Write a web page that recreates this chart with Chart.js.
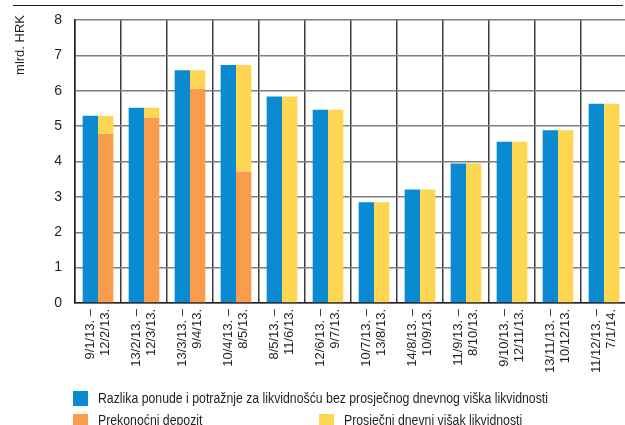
<!DOCTYPE html>
<html>
<head>
<meta charset="utf-8">
<script src="https://cdn.jsdelivr.net/npm/chart.js@4"></script>
<style>
  html, body { margin: 0; padding: 0; background: #fff; overflow: hidden; width: 625px; height: 425px; }
  #wrap { position: relative; width: 627px; height: 425px; }
  canvas { position: absolute; left: 0; top: 0; }
  .lg { position: absolute; font-family: "Liberation Sans", Arial, sans-serif; font-size: 14px; color: #231f20; white-space: nowrap; line-height: 16px; transform-origin: 0 0; }
  .sw { position: absolute; width: 15px; height: 15px; }
</style>
</head>
<body>
<div id="wrap">
  <canvas id="c" width="627" height="425"></canvas>
</div>
<script>
// ---- data ----
const periodStart = ["9/1/13.", "13/2/13.", "13/3/13.", "10/4/13.", "8/5/13.", "12/6/13.", "10/7/13.", "14/8/13.", "11/9/13.", "9/10/13.", "13/11/13.", "11/12/13."];
const periodEnd   = ["12/2/13.", "12/3/13.", "9/4/13.", "8/5/13.", "11/6/13.", "9/7/13.", "13/8/13.", "10/9/13.", "8/10/13.", "12/11/13.", "10/12/13.", "7/1/14."];
const razlika    = [5.29, 5.52, 6.58, 6.73, 5.84, 5.46, 2.85, 3.21, 3.94, 4.56, 4.88, 5.63];
const prekonocni = [4.78, 5.24, 6.06, 3.71, 0, 0, 0, 0, 0, 0, 0, 0];
const visak      = [0.51, 0.28, 0.52, 3.02, 5.84, 5.46, 2.85, 3.21, 3.94, 4.56, 4.88, 5.63];
const yTicks = [0, 1, 2, 3, 4, 5, 6, 7, 8];
const seriesNames = [
  "Razlika ponude i potražnje za likvidnošću bez prosječnog dnevnog viška likvidnosti",
  "Prekonoćni depozit",
  "Prosječni dnevni višak likvidnosti"
];
const colors = ["#0a8bd1", "#f89d4c", "#fed652"];
const axisTitle = "mlrd. HRK";

const labels = periodStart.map((s, i) => [s + " –", periodEnd[i]]);
const FONT = "'Liberation Sans', Arial, sans-serif";

const decor = {
  id: 'decor',
  afterDraw(chart) {
    const ctx = chart.ctx;
    ctx.save();
    ctx.strokeStyle = '#231f20';
    ctx.lineWidth = 1.2;
    ctx.beginPath();
    ctx.moveTo(13, 5.5);
    ctx.lineTo(623, 5.5);
    ctx.stroke();
    // y-axis title, reading bottom to top, ending near the top
    ctx.translate(20, 15);
    ctx.rotate(-Math.PI / 2);
    ctx.fillStyle = '#231f20';
    ctx.font = "13px " + FONT;
    ctx.textAlign = 'right';
    ctx.textBaseline = 'middle';
    ctx.fillText(axisTitle, 0, 0);
    ctx.restore();
  }
};

new Chart(document.getElementById('c'), {
  type: 'bar',
  data: {
    labels: labels,
    datasets: [
      { label: seriesNames[0], data: razlika, backgroundColor: colors[0], stack: 'a' },
      { label: seriesNames[1], data: prekonocni, backgroundColor: colors[1], stack: 'b' },
      { label: seriesNames[2], data: visak, backgroundColor: colors[2], stack: 'b' }
    ]
  },
  plugins: [decor],
  options: {
    responsive: false,
    animation: false,
    categoryPercentage: 0.667,
    barPercentage: 1.0,
    layout: { padding: { top: 20, right: 0, left: 0, bottom: 0 } },
    plugins: { legend: { display: false }, tooltip: { enabled: false } },
    scales: {
      x: {
        stacked: true,
        offset: true,
        grid: { display: true, offset: true, color: '#3c3c3c', lineWidth: 1.5, drawTicks: false },
        border: { display: true, color: '#231f20', width: 1.5 },
        ticks: {
          minRotation: 90, maxRotation: 90, autoSkip: false, padding: 6, labelOffset: -8,
          color: '#231f20', font: { family: FONT, size: 13, lineHeight: 1.2 }
        },
        afterFit(scale) { scale.height = 122; scale.paddingRight = 0; scale.paddingLeft = 0; }
      },
      y: {
        stacked: true,
        min: 0, max: 8,
        afterBuildTicks(scale) { scale.ticks = yTicks.map(v => ({ value: v })); },
        grid: { color: '#7f7f7f', lineWidth: 1.5, drawTicks: false },
        border: { display: true, color: '#231f20', width: 1.5 },
        ticks: { padding: 13, color: '#231f20', font: { family: FONT, size: 14 } },
        afterFit(scale) { scale.width = 75; scale.paddingTop = 0; scale.paddingBottom = 0; }
      }
    }
  }
});

// legend (HTML, built from the series arrays)
const wrap = document.getElementById('wrap');
const legendPos = [
  { sx: 73, sy: 391, tx: 98, ty: 390 },
  { sx: 73, sy: 414, tx: 98, ty: 412 },
  { sx: 319, sy: 414, tx: 344, ty: 412 }
];
const texts = [];
seriesNames.forEach((name, i) => {
  const p = legendPos[i];
  const sw = document.createElement('div');
  sw.className = 'sw';
  sw.style.left = p.sx + 'px'; sw.style.top = p.sy + 'px';
  sw.style.background = colors[i];
  wrap.appendChild(sw);
  const t = document.createElement('div');
  t.className = 'lg';
  t.style.left = p.tx + 'px'; t.style.top = p.ty + 'px';
  t.textContent = name;
  wrap.appendChild(t);
  texts.push(t);
});
// condense legend text to the narrow width of the original
const k = 450 / texts[0].getBoundingClientRect().width;
texts.forEach(t => { t.style.transform = 'scaleX(' + k + ')'; });
</script>
</body>
</html>
